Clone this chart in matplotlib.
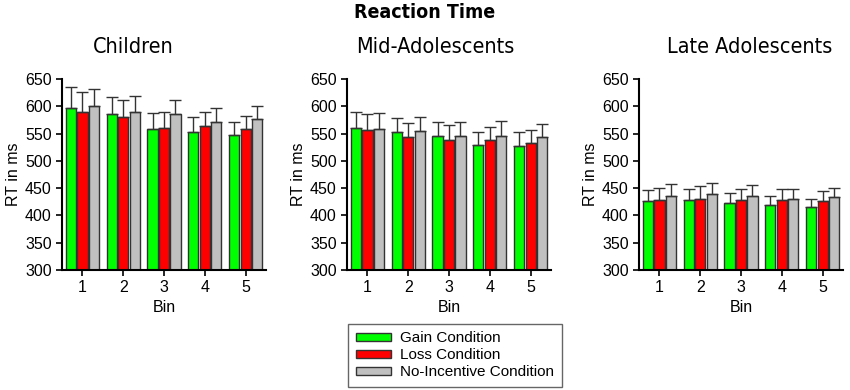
import numpy as np
import matplotlib.pyplot as plt
from matplotlib.patches import Patch

plt.rcParams['font.family'] = ['Liberation Sans', 'DejaVu Sans']

bins = [1, 2, 3, 4, 5]
groups = ["Children", "Mid-Adolescents", "Late Adolescents"]
conditions = ["Gain Condition", "Loss Condition", "No-Incentive Condition"]
colors = ["#00ff00", "#ff0000", "#c0c0c0"]

# moyennes (ms) : [gain, loss, no-incentive] par bin
children_mean = [[596, 586, 559, 553, 547],
                 [590, 580, 560, 564, 559],
                 [600, 590, 585, 571, 576]]
children_err = [[39, 31, 29, 28, 24],
                [36, 31, 30, 25, 24],
                [32, 28, 26, 25, 25]]
mid_mean = [[561, 552, 545, 529, 527],
            [556, 543, 538, 538, 532],
            [558, 554, 546, 546, 543]]
mid_err = [[29, 26, 26, 24, 26],
           [30, 27, 27, 24, 25],
           [30, 26, 25, 27, 25]]
late_mean = [[426, 428, 422, 419, 415],
             [428, 431, 428, 429, 427],
             [436, 439, 435, 431, 434]]
late_err = [[21, 21, 19, 16, 15],
            [22, 23, 21, 19, 18],
            [22, 21, 20, 18, 17]]

means = [children_mean, mid_mean, late_mean]
errs = [children_err, mid_err, late_err]

fig = plt.figure(figsize=(8.5, 3.9), dpi=100)
lefts = [62 / 850, 347 / 850, 639 / 850]
title_x = [133 / 850, 435 / 850, 750 / 850]
cond_font = dict(family="DejaVu Sans", fontstretch="condensed")
step = 0.28
w = 0.25
x = np.array(bins)

for k in range(3):
    ax = fig.add_axes([lefts[k], 120 / 390, 0.240, 191 / 390])
    for c in range(3):
        m = np.array(means[k][c])
        e = np.array(errs[k][c])
        ax.bar(x + (c - 1) * step, m - 300, bottom=300, width=w, color=colors[c],
               edgecolor="#333333", linewidth=1.0,
               yerr=[np.zeros(5), e], capsize=4,
               error_kw=dict(ecolor="#333333", elinewidth=1.0, capthick=1.0))
    ax.set_xlim(0.5, 5.5)
    ax.set_ylim(300, 650)
    ax.set_yticks(range(300, 651, 50))
    ax.set_xticks(bins)
    ax.spines["top"].set_visible(False)
    ax.spines["right"].set_visible(False)
    ax.spines["left"].set_linewidth(1.5)
    ax.spines["bottom"].set_linewidth(1.5)
    ax.tick_params(labelsize=11.5, length=4, width=1.2)
    ax.set_xlabel("Bin", fontsize=11.5, labelpad=3)
    ax.set_ylabel("RT in ms", fontsize=11.5)
    ax.yaxis.set_label_coords(-0.2, 0.5)
    fig.text(title_x[k], 343 / 390, groups[k], fontsize=15.5, ha="center",
             va="center", **cond_font)

fig.text(0.5, 377 / 390, "Reaction Time", fontsize=14, fontweight="bold",
         ha="center", va="center", **cond_font)

handles = [Patch(facecolor=colors[c], edgecolor="#333333", label=conditions[c]) for c in range(3)]
leg = fig.legend(handles=handles, loc="lower center", bbox_to_anchor=(455 / 850, -0.012),
                 fontsize=11, handlelength=2.3, handleheight=0.4, labelspacing=0.2,
                 borderpad=0.5, handletextpad=0.6, fancybox=False,
                 edgecolor="#666666", framealpha=1)
leg.get_frame().set_linewidth(1.0)

fig.savefig("out.png", dpi=100)
